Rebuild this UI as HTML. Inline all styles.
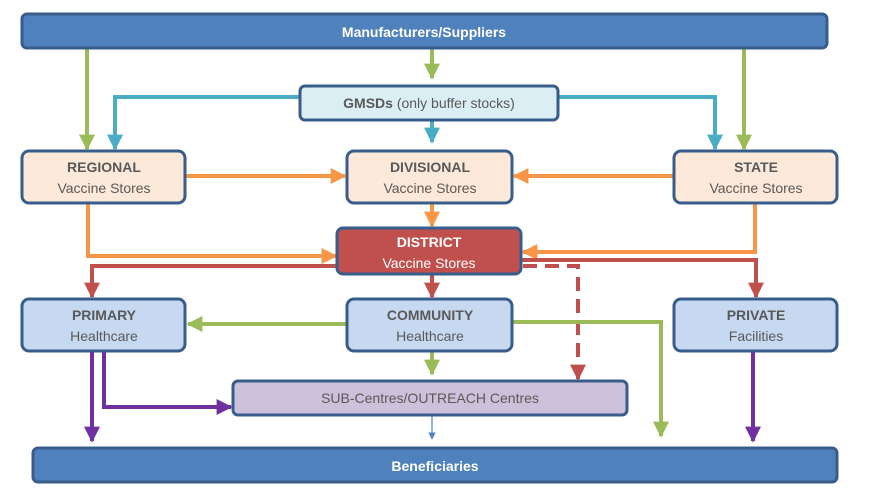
<!DOCTYPE html>
<html><head><meta charset="utf-8"><style>
html,body{margin:0;padding:0;background:#fff;}
svg{display:block;font-family:"Liberation Sans",sans-serif;}
.t{font-size:14px;fill:#595959;text-anchor:middle;}
.b{font-weight:bold;}
.w{fill:#fff;}
</style></head><body>
<svg width="881" height="489" viewBox="0 0 881 489" xmlns="http://www.w3.org/2000/svg">
<defs>
<marker id="mg" viewBox="0 0 10 10" refX="9" refY="5" markerWidth="4" markerHeight="4" orient="auto-start-reverse" markerUnits="strokeWidth"><path d="M0,0 L10,5 L0,10z" fill="#9bbb59"/></marker>
<marker id="mb" viewBox="0 0 10 10" refX="9" refY="5" markerWidth="4" markerHeight="4" orient="auto"><path d="M0,0 L10,5 L0,10z" fill="#4bacc6"/></marker>
<marker id="mo" viewBox="0 0 10 10" refX="9" refY="5" markerWidth="4" markerHeight="4" orient="auto"><path d="M0,0 L10,5 L0,10z" fill="#f79646"/></marker>
<marker id="mr" viewBox="0 0 10 10" refX="9" refY="5" markerWidth="4" markerHeight="4" orient="auto"><path d="M0,0 L10,5 L0,10z" fill="#c0504d"/></marker>
<marker id="mp" viewBox="0 0 10 10" refX="9" refY="5" markerWidth="4" markerHeight="4" orient="auto"><path d="M0,0 L10,5 L0,10z" fill="#7030a0"/></marker>
<marker id="ml" viewBox="0 0 10 10" refX="9" refY="5" markerWidth="6" markerHeight="6" orient="auto"><path d="M0,0 L10,5 L0,10z" fill="#4f81bd"/></marker>
</defs>
<g fill="none" stroke-width="4">
<!-- green from manufacturers -->
<path d="M87 48 V149" stroke="#9bbb59" marker-end="url(#mg)"/>
<path d="M432 48 V78" stroke="#9bbb59" marker-end="url(#mg)"/>
<path d="M744 48 V149" stroke="#9bbb59" marker-end="url(#mg)"/>
<!-- blue from GMSD -->
<path d="M300 97 H115 V149" stroke="#4bacc6" marker-end="url(#mb)"/>
<path d="M558 97 H715 V149" stroke="#4bacc6" marker-end="url(#mb)"/>
<path d="M432 120 V142" stroke="#4bacc6" marker-end="url(#mb)"/>
<!-- orange -->
<path d="M185 176 H345" stroke="#f79646" marker-end="url(#mo)"/>
<path d="M674 176 H514" stroke="#f79646" marker-end="url(#mo)"/>
<path d="M432 203 V226" stroke="#f79646" marker-end="url(#mo)"/>
<path d="M88 203 V256 H336" stroke="#f79646" marker-end="url(#mo)"/>
<path d="M755 203 V252 H523" stroke="#f79646" marker-end="url(#mo)"/>
<!-- red -->
<path d="M346 266 H92 V297" stroke="#c0504d" marker-end="url(#mr)"/>
<path d="M432 274 V297" stroke="#c0504d" marker-end="url(#mr)"/>
<path d="M521 260 H756 V297" stroke="#c0504d" marker-end="url(#mr)"/>
<path d="M523 266 H578 V379" stroke="#c0504d" stroke-dasharray="14,8" marker-end="url(#mr)"/>
<!-- green community -->
<path d="M347 324 H188" stroke="#9bbb59" marker-end="url(#mg)"/>
<path d="M512 322 H661 V436" stroke="#9bbb59" marker-end="url(#mg)"/>
<path d="M432 351 V374" stroke="#9bbb59" marker-end="url(#mg)"/>
<!-- purple -->
<path d="M92 351 V441" stroke="#7030a0" marker-end="url(#mp)"/>
<path d="M104 351 V407 H231" stroke="#7030a0" marker-end="url(#mp)"/>
<path d="M753 351 V441" stroke="#7030a0" marker-end="url(#mp)"/>
<path d="M432 415 V439" stroke="#4f81bd" stroke-width="1.2" marker-end="url(#ml)"/>
</g>
<g stroke="#385d8a" stroke-width="3">
<rect x="22" y="14" width="805" height="34" rx="5" fill="#4f81bd"/>
<rect x="300" y="86" width="258" height="34" rx="5" fill="#dbeef4"/>
<rect x="22" y="151" width="163" height="52" rx="7" fill="#fde9d9"/>
<rect x="347" y="151" width="165" height="52" rx="7" fill="#fde9d9"/>
<rect x="674" y="151" width="163" height="52" rx="7" fill="#fde9d9"/>
<rect x="337" y="228" width="184" height="46" rx="6" fill="#c0504d"/>
<rect x="22" y="299" width="163" height="52" rx="7" fill="#c6d9f1"/>
<rect x="347" y="299" width="165" height="52" rx="7" fill="#c6d9f1"/>
<rect x="674" y="299" width="163" height="52" rx="7" fill="#c6d9f1"/>
<rect x="233" y="381" width="394" height="34" rx="5" fill="#ccc0da"/>
<rect x="33" y="448" width="804" height="34" rx="5" fill="#4f81bd"/>
</g>
<text class="t b w" x="424" y="37">Manufacturers/Suppliers</text>
<text class="t" x="429" y="108"><tspan class="b">GMSDs</tspan> (only buffer stocks)</text>
<text class="t b" x="104" y="172">REGIONAL</text><text class="t" x="104" y="193">Vaccine Stores</text>
<text class="t b" x="430" y="172">DIVISIONAL</text><text class="t" x="430" y="193">Vaccine Stores</text>
<text class="t b" x="756" y="172">STATE</text><text class="t" x="756" y="193">Vaccine Stores</text>
<text class="t b w" x="429" y="247">DISTRICT</text><text class="t w" x="429" y="268">Vaccine Stores</text>
<text class="t b" x="104" y="320">PRIMARY</text><text class="t" x="104" y="341">Healthcare</text>
<text class="t b" x="430" y="320">COMMUNITY</text><text class="t" x="430" y="341">Healthcare</text>
<text class="t b" x="756" y="320">PRIVATE</text><text class="t" x="756" y="341">Facilities</text>
<text class="t" x="430" y="403">SUB-Centres/OUTREACH Centres</text>
<text class="t b w" x="435" y="471">Beneficiaries</text>
</svg>
</body></html>
